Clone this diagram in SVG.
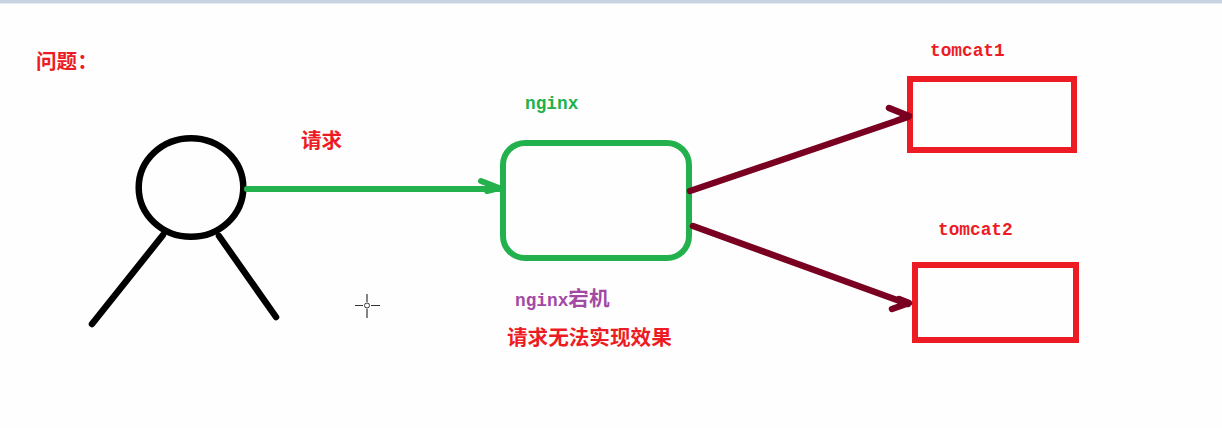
<svg xmlns="http://www.w3.org/2000/svg" width="1222" height="428" viewBox="0 0 1222 428">
<style>
.s{fill:none;stroke-linecap:round;stroke-linejoin:round}
.k{stroke:#000;stroke-width:6.5}
.g{stroke:#22b14c;stroke-width:6}
.d{stroke:#7a0022;stroke-width:6.500}
.r{fill:none;stroke:#ed1c24;stroke-width:6}
text{font-weight:700}
.m{font-family:"Liberation Mono","DejaVu Sans Mono",monospace;font-size:17.8px}
.c{font-family:"Noto Sans CJK SC","Liberation Sans",sans-serif;font-size:20.600px}
.red{fill:#ed1c24}
</style>
<rect width="1222" height="428" fill="#fefefe"/>
<rect width="1222" height="3.5" fill="#c8d4e2"/>
<text id="title" class="c red" x="36" y="69">问题：</text>
<g id="person">
<ellipse class="s k" cx="191" cy="187.5" rx="52.3" ry="49.3"/>
<path class="s k" d="M163 235L92 324M219 236L276 317"/>
</g>
<g id="nginx">
<rect class="g" x="503" y="143" width="186" height="115" rx="22" style="fill:none"/>
<text class="m" x="525" y="109" fill="#22b14c">nginx</text>
</g>
<g id="tomcat1">
<rect class="r" x="910" y="79" width="164" height="71"/>
<text class="m red" x="930" y="56">tomcat1</text>
</g>
<g id="tomcat2">
<rect class="r" x="915" y="265" width="161" height="75"/>
<text class="m red" x="938" y="235">tomcat2</text>
</g>
<g id="connectors">
<path class="s g" d="M247 189H499M481 181L499 188L487 191"/>
<path class="s d" d="M690 191L908 117M889 108L909 116L896 121"/>
<path class="s d" d="M693 226L908 304M892 309L909 303L899 299"/>
</g>
<g id="labels">
<text class="c red" x="301" y="148">请求</text>
<text x="515" y="306" fill="#a349a4"><tspan class="m">nginx</tspan><tspan class="c">宕机</tspan></text>
<text class="c red" x="507" y="345">请求无法实现效果</text>
</g>
<g id="cursor" fill="none" stroke="#333" stroke-width="1.2">
<path d="M355 305.500H363M371 305.500H380M367 294V302M367 309V318"/>
<circle cx="367" cy="305.500" r="2.500" stroke-width="1"/>
</g>
</svg>
